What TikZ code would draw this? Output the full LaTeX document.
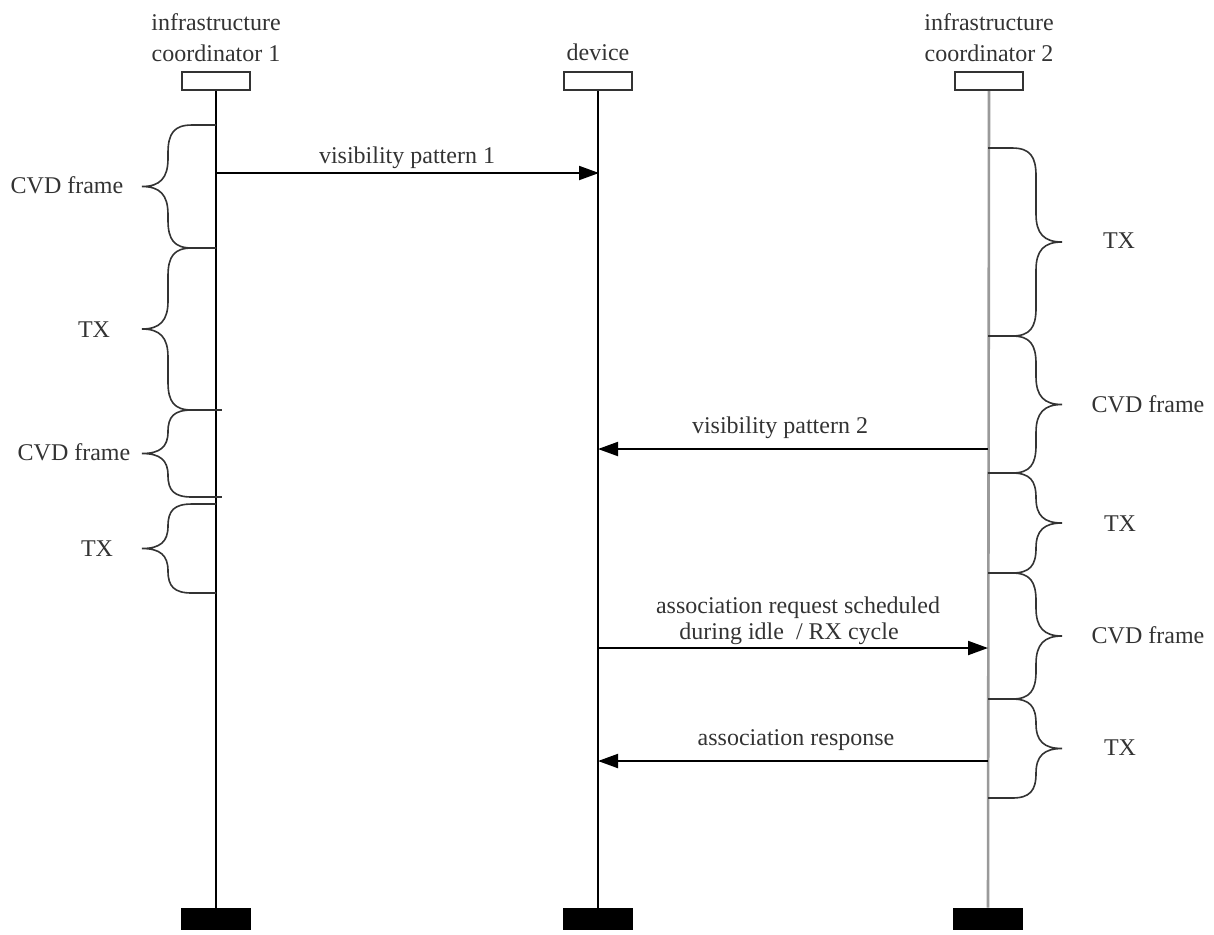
\documentclass[tikz,border=0pt]{standalone}
\usepackage{fontspec}
\setmainfont{Liberation Serif}
\usetikzlibrary{arrows.meta}

\definecolor{inkgray}{HTML}{333333}
\definecolor{linegray}{HTML}{9A9A9A}

% curly brace hugging a lifeline: #1 line x, #2 top y, #3 bottom y, #4 side (+1 right, -1 left)
\newcommand{\lifebrace}[4]{%
  \pgfmathsetmacro\bmid{(#2+#3)/2}%
  \pgfmathsetmacro\brr{min(28,(#3-#2)/4)}%
  \draw[bracestyle]
    (#1,#2) -- ({#1+#4*24},#2)
    .. controls ({#1+#4*42},#2) and ({#1+#4*48},{#2+0.3*\brr}) .. ({#1+#4*48},{#2+\brr})
    -- ({#1+#4*48},{\bmid-\brr})
    .. controls ({#1+#4*48},{\bmid-0.3*\brr}) and ({#1+#4*56},\bmid) .. ({#1+#4*74},\bmid)
    .. controls ({#1+#4*56},\bmid) and ({#1+#4*48},{\bmid+0.3*\brr}) .. ({#1+#4*48},{\bmid+\brr})
    -- ({#1+#4*48},{#3-\brr})
    .. controls ({#1+#4*48},{#3-0.3*\brr}) and ({#1+#4*42},#3) .. ({#1+#4*24},#3)
    -- (#1,#3);%
}

\begin{document}
\begin{tikzpicture}[x=0.5pt,y=-0.5pt,
  lbl/.style={font=\fontsize{12}{15}\selectfont, text=inkgray, inner sep=0pt, anchor=base},
  headbox/.style={draw=inkgray, line width=1pt, fill=white, minimum width=34pt, minimum height=9pt, inner sep=0pt},
  footbox/.style={fill=black, minimum width=35pt, minimum height=11pt, inner sep=0pt},
  lifeline/.style={line width=1pt, black},
  lifeline2/.style={line width=1.3pt, linegray},
  bracestyle/.style={line width=0.8pt, inkgray},
  msg/.style={line width=1pt, black, -{Triangle[length=10pt,width=7pt]}}
]
\useasboundingbox (0,0) rectangle (1214,934);

% participant names
\node[lbl] (n1a) at (216,30) {infrastructure};
\node[lbl] (n1b) at (216,61) {coordinator 1};
\node[lbl] (n2)  at (598,60) {device};
\node[lbl] (n3a) at (989,30) {infrastructure};
\node[lbl] (n3b) at (989,61) {coordinator 2};

% head and foot boxes
\node[headbox] (h1) at (216,81) {};
\node[headbox] (h2) at (598,81) {};
\node[headbox] (h3) at (989,81) {};
\node[footbox] (f1) at (216,919) {};
\node[footbox] (f2) at (598,919) {};
\node[footbox] (f3) at (988,919) {};

% lifelines
\draw[lifeline]  (h1.south) -- (f1.north);
\draw[lifeline]  (h2.south) -- (f2.north);
\draw[lifeline2] (h3.south) -- (f3.north);

% frame phases of coordinator 1
\lifebrace{216}{125}{248}{-1}
\lifebrace{216}{248}{410}{-1}
\lifebrace{216}{410}{497}{-1}
\draw[bracestyle] (216,410) -- (222,410) (216,497) -- (222,497);
\lifebrace{216}{504}{593}{-1}

\node[lbl] (l1) at (67,193) {CVD frame};
\node[lbl] (l2) at (94,337) {TX};
\node[lbl] (l3) at (74,460) {CVD frame};
\node[lbl] (l4) at (97,556) {TX};

% frame phases of coordinator 2
\lifebrace{988}{148}{336}{1}
\lifebrace{988}{336}{473}{1}
\lifebrace{988}{473}{573}{1}
\lifebrace{988}{573}{699}{1}
\lifebrace{988}{699}{798}{1}

\node[lbl] (r1) at (1119,248) {TX};
\node[lbl] (r2) at (1148,412) {CVD frame};
\node[lbl] (r3) at (1120,531) {TX};
\node[lbl] (r4) at (1148,643) {CVD frame};
\node[lbl] (r5) at (1120,755) {TX};

% message end points on the lifelines
\coordinate (m1s) at (216,173);
\coordinate (m1e) at (599,173);
\coordinate (m2s) at (988,449);
\coordinate (m2e) at (598,449);
\coordinate (m3s) at (598,648);
\coordinate (m3e) at (988,648);
\coordinate (m4s) at (988,761);
\coordinate (m4e) at (598,761);

% messages
\draw[msg] (m1s) -- (m1e);
\draw[msg] (m2s) -- (m2e);
\draw[msg] (m3s) -- (m3e);
\draw[msg] (m4s) -- (m4e);

\node[lbl] (t1) at (407,163) {visibility pattern 1};
\node[lbl] (t2) at (780,433) {visibility pattern 2};
\node[lbl] (t3a) at (798,613) {association request scheduled};
\node[lbl] (t3b) at (789,639) {during idle \ / RX cycle};
\node[lbl] (t4) at (796,745) {association response};
\end{tikzpicture}
\end{document}
